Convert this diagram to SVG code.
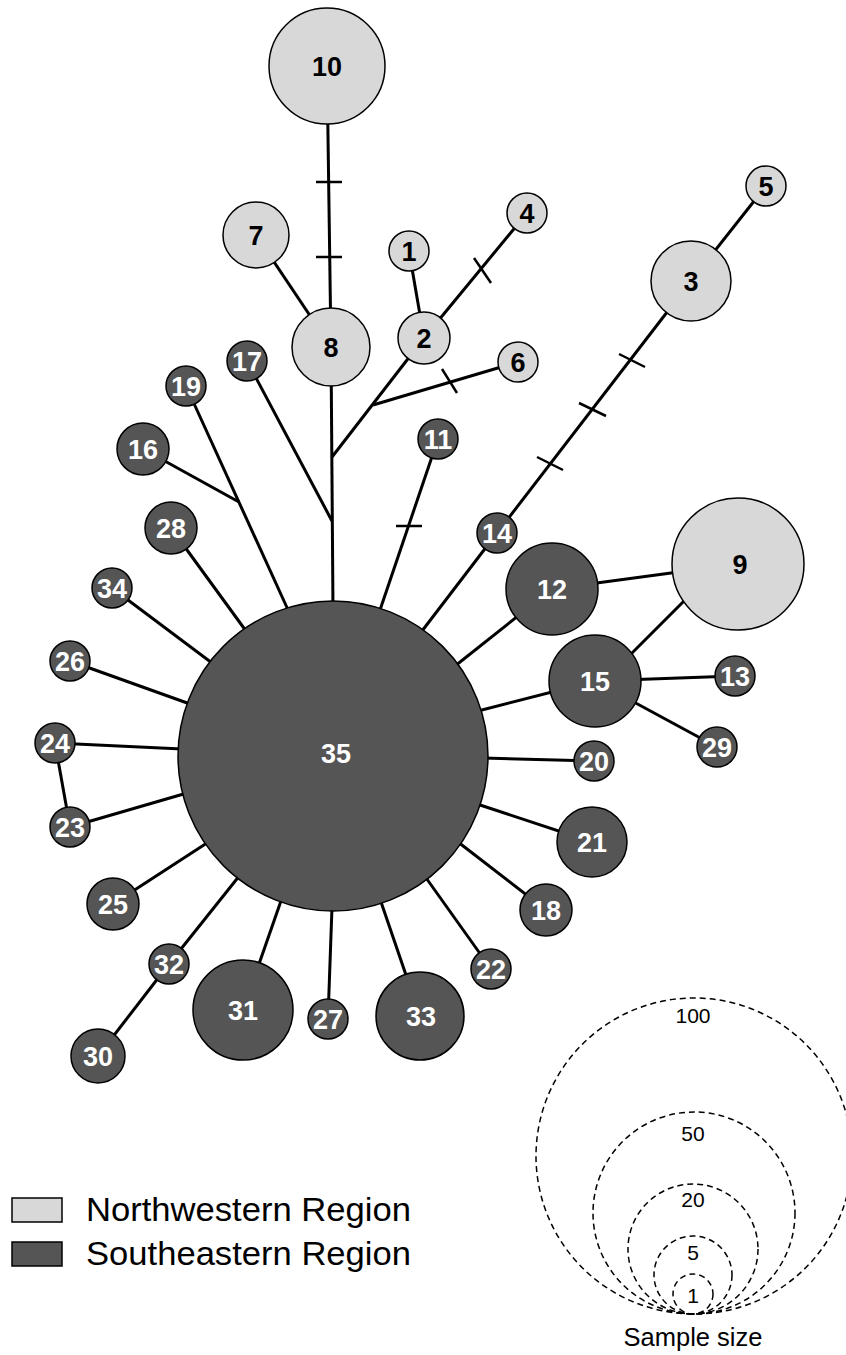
<svg xmlns="http://www.w3.org/2000/svg" width="846" height="1355" viewBox="0 0 846 1355">
<style>
.e{stroke:#000;stroke-width:3;fill:none;stroke-linecap:butt}
.t{stroke:#000;stroke-width:2.5;fill:none}
.nw{fill:#d8d8d8;stroke:#000;stroke-width:1.5}
.se{fill:#555555;stroke:#000;stroke-width:1.5}
.ln{font-family:"Liberation Sans",Arial,sans-serif;font-weight:bold;font-size:27px;text-anchor:middle;fill:#000}
.ld{font-family:"Liberation Sans",Arial,sans-serif;font-weight:bold;font-size:27px;text-anchor:middle;fill:#fff}
.ss{fill:none;stroke:#000;stroke-width:1.5;stroke-dasharray:6 4}
.sl{font-family:"Liberation Sans",Arial,sans-serif;font-size:21px;text-anchor:middle;fill:#000}
.lg{font-family:"Liberation Sans",Arial,sans-serif;font-size:33px;fill:#000}
</style>
<rect width="846" height="1355" fill="#fff"/>
<g id="connectors">
<line class="e" x1="327" y1="66" x2="331" y2="347"/>
<line class="t" x1="316" y1="182" x2="342" y2="182"/>
<line class="t" x1="316" y1="257" x2="342" y2="257"/>
<line class="e" x1="256" y1="235" x2="331" y2="347"/>
<line class="e" x1="409" y1="251" x2="424" y2="338"/>
<line class="e" x1="424" y1="338" x2="527" y2="213"/>
<line class="t" x1="474" y1="258" x2="491" y2="283"/>
<line class="e" x1="424" y1="338" x2="332" y2="457"/>
<line class="e" x1="373" y1="405" x2="518" y2="362"/>
<line class="t" x1="442" y1="369" x2="457" y2="393"/>
<line class="e" x1="331" y1="347" x2="333" y2="610"/>
<line class="e" x1="247" y1="361" x2="332" y2="521"/>
<line class="e" x1="186" y1="386" x2="289" y2="612"/>
<line class="e" x1="143" y1="449" x2="239" y2="502"/>
<line class="e" x1="171" y1="528" x2="246" y2="631"/>
<line class="e" x1="112" y1="588" x2="212" y2="663"/>
<line class="e" x1="70" y1="661" x2="190" y2="704"/>
<line class="e" x1="55" y1="743" x2="182" y2="749"/>
<line class="e" x1="55" y1="743" x2="70" y2="827"/>
<line class="e" x1="70" y1="827" x2="187" y2="793"/>
<line class="e" x1="113" y1="904" x2="210" y2="841"/>
<line class="e" x1="98" y1="1056" x2="169" y2="964"/>
<line class="e" x1="169" y1="964" x2="240" y2="875"/>
<line class="e" x1="243" y1="1010" x2="282" y2="898"/>
<line class="e" x1="328" y1="1019" x2="332" y2="907"/>
<line class="e" x1="420" y1="1016" x2="380" y2="899"/>
<line class="e" x1="491" y1="969" x2="424" y2="875"/>
<line class="e" x1="546" y1="910" x2="458" y2="842"/>
<line class="e" x1="592" y1="842" x2="477" y2="804"/>
<line class="e" x1="594" y1="761" x2="483" y2="758"/>
<line class="e" x1="595" y1="681" x2="478" y2="711"/>
<line class="e" x1="552" y1="589" x2="455" y2="666"/>
<line class="e" x1="497" y1="533" x2="422" y2="631"/>
<line class="e" x1="691" y1="281" x2="497" y2="533"/>
<line class="t" x1="619" y1="354" x2="645" y2="367"/>
<line class="t" x1="579" y1="403" x2="606" y2="416"/>
<line class="t" x1="537" y1="457" x2="563" y2="470"/>
<line class="e" x1="691" y1="281" x2="766" y2="186"/>
<line class="e" x1="438" y1="439" x2="380" y2="610"/>
<line class="t" x1="396" y1="526" x2="422" y2="526"/>
<line class="e" x1="552" y1="589" x2="738" y2="564"/>
<line class="e" x1="690" y1="595" x2="625" y2="660"/>
<line class="e" x1="595" y1="681" x2="735" y2="676"/>
<line class="e" x1="595" y1="681" x2="717" y2="747"/>
</g>
<g id="n10"><circle class="nw" cx="327" cy="66" r="58"/><text class="ln" x="327" y="76">10</text></g>
<g id="n7"><circle class="nw" cx="256" cy="235" r="33"/><text class="ln" x="256" y="245">7</text></g>
<g id="n8"><circle class="nw" cx="331" cy="347" r="39"/><text class="ln" x="331" y="357">8</text></g>
<g id="n1"><circle class="nw" cx="409" cy="251" r="20"/><text class="ln" x="409" y="261">1</text></g>
<g id="n2"><circle class="nw" cx="424" cy="338" r="26"/><text class="ln" x="424" y="348">2</text></g>
<g id="n4"><circle class="nw" cx="527" cy="213" r="20"/><text class="ln" x="527" y="223">4</text></g>
<g id="n6"><circle class="nw" cx="518" cy="362" r="20"/><text class="ln" x="518" y="372">6</text></g>
<g id="n3"><circle class="nw" cx="691" cy="281" r="40"/><text class="ln" x="691" y="291">3</text></g>
<g id="n5"><circle class="nw" cx="766" cy="186" r="20"/><text class="ln" x="766" y="196">5</text></g>
<g id="n9"><circle class="nw" cx="738" cy="564" r="66"/><text class="ln" x="740" y="574">9</text></g>
<g id="n35"><circle class="se" cx="333" cy="756" r="155"/><text class="ld" x="336" y="763">35</text></g>
<g id="n17"><circle class="se" cx="247" cy="361" r="20"/><text class="ld" x="247" y="371">17</text></g>
<g id="n19"><circle class="se" cx="186" cy="386" r="20"/><text class="ld" x="186" y="396">19</text></g>
<g id="n16"><circle class="se" cx="143" cy="449" r="26"/><text class="ld" x="143" y="459">16</text></g>
<g id="n28"><circle class="se" cx="171" cy="528" r="26"/><text class="ld" x="171" y="538">28</text></g>
<g id="n34"><circle class="se" cx="112" cy="588" r="20"/><text class="ld" x="112" y="598">34</text></g>
<g id="n26"><circle class="se" cx="70" cy="661" r="20"/><text class="ld" x="70" y="671">26</text></g>
<g id="n24"><circle class="se" cx="55" cy="743" r="20"/><text class="ld" x="55" y="753">24</text></g>
<g id="n23"><circle class="se" cx="70" cy="827" r="20"/><text class="ld" x="70" y="837">23</text></g>
<g id="n25"><circle class="se" cx="113" cy="904" r="26"/><text class="ld" x="113" y="914">25</text></g>
<g id="n32"><circle class="se" cx="169" cy="964" r="20"/><text class="ld" x="169" y="974">32</text></g>
<g id="n30"><circle class="se" cx="98" cy="1056" r="27"/><text class="ld" x="98" y="1066">30</text></g>
<g id="n31"><circle class="se" cx="243" cy="1010" r="50"/><text class="ld" x="243" y="1020">31</text></g>
<g id="n27"><circle class="se" cx="328" cy="1019" r="20"/><text class="ld" x="328" y="1029">27</text></g>
<g id="n33"><circle class="se" cx="420" cy="1016" r="44"/><text class="ld" x="421" y="1026">33</text></g>
<g id="n22"><circle class="se" cx="491" cy="969" r="20"/><text class="ld" x="491" y="979">22</text></g>
<g id="n18"><circle class="se" cx="546" cy="910" r="26"/><text class="ld" x="546" y="920">18</text></g>
<g id="n21"><circle class="se" cx="592" cy="842" r="35"/><text class="ld" x="592" y="852">21</text></g>
<g id="n20"><circle class="se" cx="594" cy="761" r="20"/><text class="ld" x="594" y="771">20</text></g>
<g id="n15"><circle class="se" cx="595" cy="681" r="46"/><text class="ld" x="595" y="691">15</text></g>
<g id="n12"><circle class="se" cx="552" cy="589" r="46"/><text class="ld" x="552" y="599">12</text></g>
<g id="n14"><circle class="se" cx="497" cy="533" r="20"/><text class="ld" x="497" y="543">14</text></g>
<g id="n11"><circle class="se" cx="438" cy="439" r="20"/><text class="ld" x="438" y="449">11</text></g>
<g id="n13"><circle class="se" cx="735" cy="676" r="20"/><text class="ld" x="735" y="686">13</text></g>
<g id="n29"><circle class="se" cx="717" cy="747" r="20"/><text class="ld" x="717" y="757">29</text></g>
<g id="legend">
<rect class="nw" x="12" y="1198" width="50" height="24"/>
<rect class="se" x="12" y="1242" width="50" height="24"/>
<text class="lg" x="86" y="1221" textLength="325" lengthAdjust="spacingAndGlyphs">Northwestern Region</text>
<text class="lg" x="86" y="1265" textLength="325" lengthAdjust="spacingAndGlyphs">Southeastern Region</text>
</g>
<g id="sample-size">
<circle class="ss" cx="694" cy="1156" r="158"/>
<circle class="ss" cx="694" cy="1213" r="101"/>
<circle class="ss" cx="693" cy="1249" r="65"/>
<circle class="ss" cx="693" cy="1275" r="39"/>
<circle class="ss" cx="693" cy="1294" r="20"/>
<text class="sl" x="693" y="1023">100</text>
<text class="sl" x="693" y="1141">50</text>
<text class="sl" x="693" y="1207">20</text>
<text class="sl" x="693" y="1260">5</text>
<text class="sl" x="693" y="1303">1</text>
<text class="sl" x="693" y="1346" style="font-size:25.5px">Sample size</text>
</g>
</svg>
